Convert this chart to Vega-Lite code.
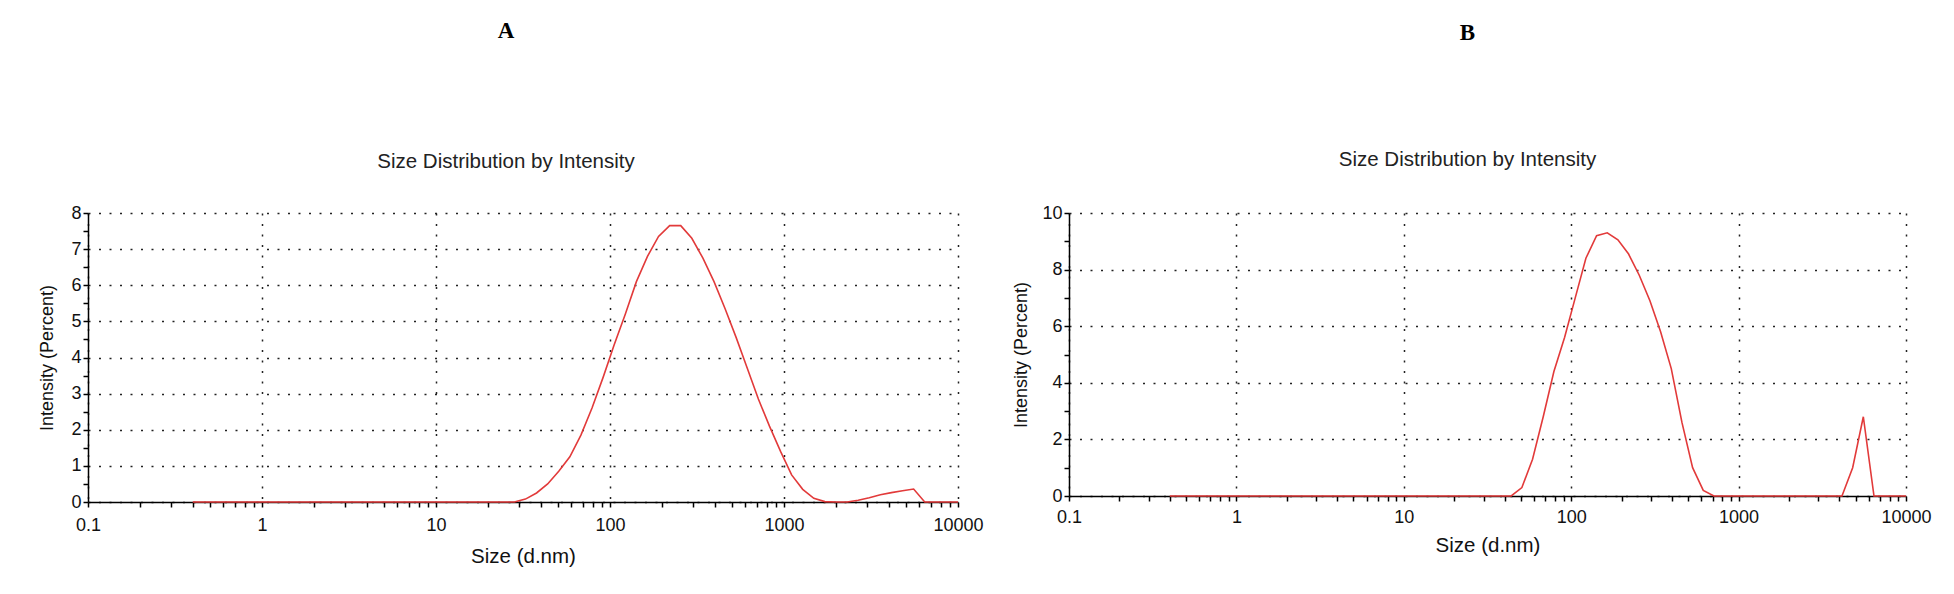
{
  "$schema": "https://vega.github.io/schema/vega-lite/v6.json",
  "background": "white",
  "padding": {"left": 38, "top": 19, "right": 0, "bottom": 0},
  "spacing": 28,
  "datasets": {
    "dls": [
      {"size": 0.4, "A": 0, "B": 0},
      {"size": 0.4632, "A": 0, "B": 0},
      {"size": 0.5365, "A": 0, "B": 0},
      {"size": 0.6213, "A": 0, "B": 0},
      {"size": 0.7195, "A": 0, "B": 0},
      {"size": 0.8332, "A": 0, "B": 0},
      {"size": 0.965, "A": 0, "B": 0},
      {"size": 1.117, "A": 0, "B": 0},
      {"size": 1.294, "A": 0, "B": 0},
      {"size": 1.499, "A": 0, "B": 0},
      {"size": 1.736, "A": 0, "B": 0},
      {"size": 2.01, "A": 0, "B": 0},
      {"size": 2.328, "A": 0, "B": 0},
      {"size": 2.696, "A": 0, "B": 0},
      {"size": 3.122, "A": 0, "B": 0},
      {"size": 3.615, "A": 0, "B": 0},
      {"size": 4.187, "A": 0, "B": 0},
      {"size": 4.849, "A": 0, "B": 0},
      {"size": 5.615, "A": 0, "B": 0},
      {"size": 6.503, "A": 0, "B": 0},
      {"size": 7.531, "A": 0, "B": 0},
      {"size": 8.721, "A": 0, "B": 0},
      {"size": 10.1, "A": 0, "B": 0},
      {"size": 11.7, "A": 0, "B": 0},
      {"size": 13.54, "A": 0, "B": 0},
      {"size": 15.69, "A": 0, "B": 0},
      {"size": 18.17, "A": 0, "B": 0},
      {"size": 21.04, "A": 0, "B": 0},
      {"size": 24.36, "A": 0, "B": 0},
      {"size": 28.21, "A": 0, "B": 0},
      {"size": 32.67, "A": 0.08, "B": 0},
      {"size": 37.84, "A": 0.25, "B": 0},
      {"size": 43.82, "A": 0.5, "B": 0},
      {"size": 50.75, "A": 0.85, "B": 0.3},
      {"size": 58.77, "A": 1.25, "B": 1.3},
      {"size": 68.06, "A": 1.85, "B": 2.8},
      {"size": 78.82, "A": 2.6, "B": 4.4},
      {"size": 91.28, "A": 3.45, "B": 5.6},
      {"size": 105.7, "A": 4.35, "B": 7.0},
      {"size": 122.4, "A": 5.2, "B": 8.4},
      {"size": 141.8, "A": 6.1, "B": 9.2},
      {"size": 164.2, "A": 6.8, "B": 9.3},
      {"size": 190.1, "A": 7.35, "B": 9.05},
      {"size": 220.2, "A": 7.65, "B": 8.55},
      {"size": 255, "A": 7.65, "B": 7.8},
      {"size": 295.3, "A": 7.3, "B": 6.9},
      {"size": 342, "A": 6.75, "B": 5.8},
      {"size": 396.1, "A": 6.1, "B": 4.5},
      {"size": 458.7, "A": 5.35, "B": 2.6},
      {"size": 531.2, "A": 4.55, "B": 1.0},
      {"size": 615.1, "A": 3.7, "B": 0.2},
      {"size": 712.4, "A": 2.85, "B": 0},
      {"size": 825, "A": 2.1, "B": 0},
      {"size": 955.4, "A": 1.4, "B": 0},
      {"size": 1106, "A": 0.75, "B": 0},
      {"size": 1281, "A": 0.35, "B": 0},
      {"size": 1484, "A": 0.1, "B": 0},
      {"size": 1718, "A": 0.01, "B": 0},
      {"size": 1990, "A": 0, "B": 0},
      {"size": 2305, "A": 0, "B": 0},
      {"size": 2669, "A": 0.05, "B": 0},
      {"size": 3091, "A": 0.12, "B": 0},
      {"size": 3580, "A": 0.2, "B": 0},
      {"size": 4145, "A": 0.26, "B": 0},
      {"size": 4801, "A": 0.31, "B": 1.0},
      {"size": 5560, "A": 0.36, "B": 2.8},
      {"size": 6439, "A": 0, "B": 0},
      {"size": 7456, "A": 0, "B": 0},
      {"size": 8635, "A": 0, "B": 0},
      {"size": 10000, "A": 0, "B": 0}
    ]
  },
  "config": {
    "view": {"stroke": null},
    "font": "Liberation Sans",
    "axis": {
      "domainColor": "#000",
      "domainWidth": 1.5,
      "tickColor": "#000",
      "tickWidth": 1.5,
      "tickSize": 5,
      "labelFont": "Liberation Sans",
      "labelFontSize": 18,
      "labelColor": "#111",
      "labelOverlap": false,
      "labelFlush": false,
      "labelBound": false,
      "titleFont": "Liberation Sans",
      "titleFontWeight": "normal",
      "titleFontSize": 20.5,
      "titleColor": "#111",
      "gridColor": "#222",
      "gridDash": [2, 8.5],
      "gridWidth": 1.5
    },
    "title": {
      "font": "Liberation Serif",
      "fontSize": 23,
      "fontWeight": "bold",
      "color": "#000",
      "subtitleFont": "Liberation Sans",
      "subtitleFontSize": 20.5,
      "subtitleColor": "#222",
      "anchor": "middle"
    }
  },
  "hconcat": [
    {
      "title": {"text": "A", "subtitle": "Size Distribution by Intensity", "subtitlePadding": 109, "offset": 32, "dx": -17},
      "width": 870,
      "height": 289,
      "data": {"name": "dls"},
      "mark": {"type": "line", "color": "#e23a3a", "strokeWidth": 1.6},
      "encoding": {
        "x": {
          "field": "size", "type": "quantitative",
          "scale": {"type": "log", "domain": [0.1, 10000], "nice": false},
          "axis": {
            "title": "Size (d.nm)",
            "values": [0.1,0.2,0.3,0.4,0.5,0.6,0.7,0.8,0.9,1,2,3,4,5,6,7,8,9,10,20,30,40,50,60,70,80,90,100,200,300,400,500,600,700,800,900,1000,2000,3000,4000,5000,6000,7000,8000,9000,10000],
            "labelExpr": "indexof([0.1,1,10,100,1000,10000], datum.value) >= 0 ? (datum.value < 1 ? '0.1' : format(datum.value, 'd')) : ''",
            "gridOpacity": {"condition": {"test": "indexof([0.1,1,10,100,1000,10000], datum.value) >= 0", "value": 1}, "value": 0},
            "labelPadding": 9,
            "titlePadding": 12
          }
        },
        "y": {
          "field": "A", "type": "quantitative",
          "scale": {"domain": [0, 8], "nice": false},
          "axis": {
            "title": "Intensity (Percent)",
            "titleFontSize": 18,
            "values": [0,0.5,1,1.5,2,2.5,3,3.5,4,4.5,5,5.5,6,6.5,7,7.5,8],
            "labelExpr": "datum.value % 1 === 0 ? format(datum.value, 'd') : ''",
            "gridOpacity": {"condition": {"test": "datum.value % 1 === 0", "value": 1}, "value": 0},
            "labelPadding": 2,
            "titlePadding": 14
          }
        }
      }
    },
    {
      "title": {"text": "B", "subtitle": "Size Distribution by Intensity", "subtitlePadding": 105, "offset": 34, "dx": -20},
      "width": 837,
      "height": 283,
      "data": {"name": "dls"},
      "mark": {"type": "line", "color": "#e23a3a", "strokeWidth": 1.6},
      "encoding": {
        "x": {
          "field": "size", "type": "quantitative",
          "scale": {"type": "log", "domain": [0.1, 10000], "nice": false},
          "axis": {
            "title": "Size (d.nm)",
            "values": [0.1,0.2,0.3,0.4,0.5,0.6,0.7,0.8,0.9,1,2,3,4,5,6,7,8,9,10,20,30,40,50,60,70,80,90,100,200,300,400,500,600,700,800,900,1000,2000,3000,4000,5000,6000,7000,8000,9000,10000],
            "labelExpr": "indexof([0.1,1,10,100,1000,10000], datum.value) >= 0 ? (datum.value < 1 ? '0.1' : format(datum.value, 'd')) : ''",
            "gridOpacity": {"condition": {"test": "indexof([0.1,1,10,100,1000,10000], datum.value) >= 0", "value": 1}, "value": 0},
            "labelPadding": 7,
            "titlePadding": 9
          }
        },
        "y": {
          "field": "B", "type": "quantitative",
          "scale": {"domain": [0, 10], "nice": false},
          "axis": {
            "title": "Intensity (Percent)",
            "titleFontSize": 18,
            "values": [0,1,2,3,4,5,6,7,8,9,10],
            "labelExpr": "datum.value % 2 === 0 ? format(datum.value, 'd') : ''",
            "gridOpacity": {"condition": {"test": "datum.value % 2 === 0", "value": 1}, "value": 0},
            "labelPadding": 2,
            "titlePadding": 11
          }
        }
      }
    }
  ]
}
